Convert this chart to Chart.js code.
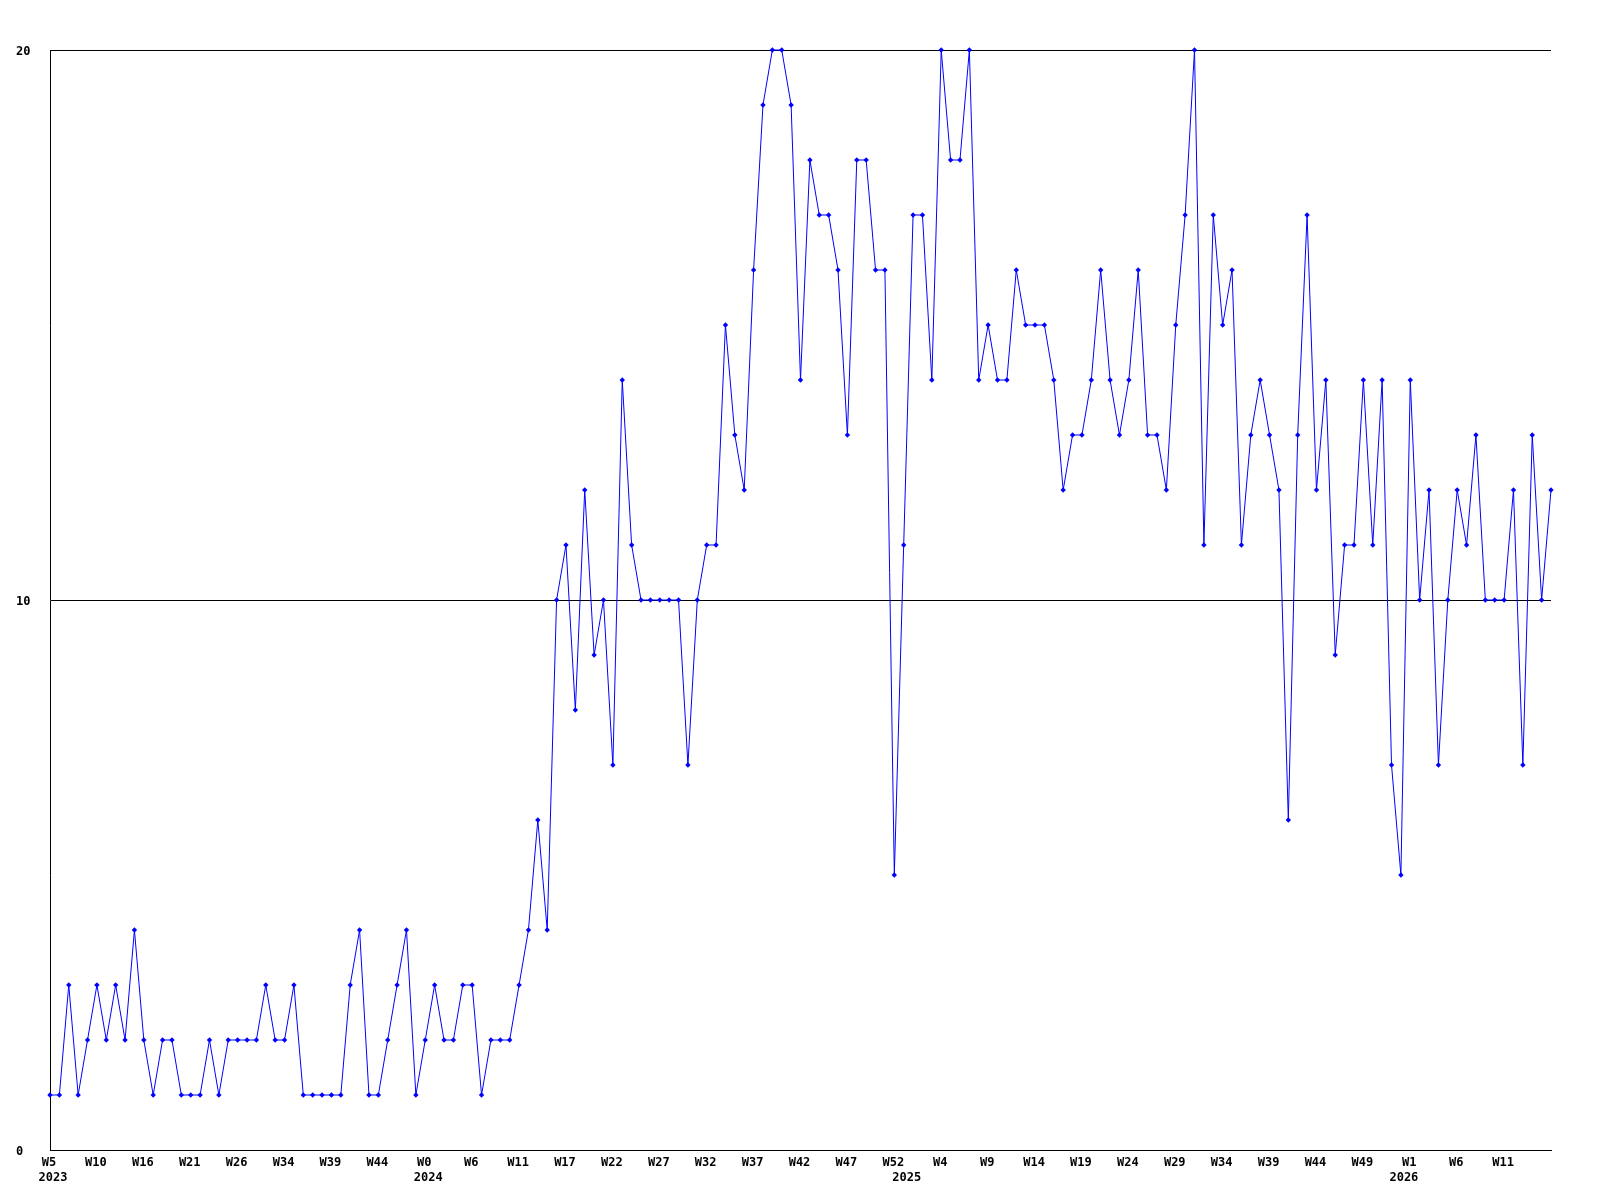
<!DOCTYPE html>
<html><head><meta charset="utf-8">
<script src="https://cdn.jsdelivr.net/npm/chart.js@4.4.1/dist/chart.umd.min.js"></script>
<style>html,body{margin:0;padding:0;background:#fff}canvas{display:block}</style>
</head><body>
<canvas id="c" width="1600" height="1200"></canvas>
<script>
const values = [
  1,1,3,1,2,3,2,3,2,4,
  2,1,2,2,1,1,1,2,1,2,
  2,2,2,3,2,2,3,1,1,1,
  1,1,3,4,1,1,2,3,4,1,
  2,3,2,2,3,3,1,2,2,2,
  3,4,6,4,10,11,8,12,9,10,
  7,14,11,10,10,10,10,10,7,10,
  11,11,15,13,12,16,19,20,20,19,
  14,18,17,17,16,13,18,18,16,16,
  5,11,17,17,14,20,18,18,20,14,
  15,14,14,16,15,15,15,14,12,13,
  13,14,16,14,13,14,16,13,13,12,
  15,17,20,11,17,15,16,11,13,14,
  13,12,6,13,17,12,14,9,11,11,
  14,11,14,7,5,14,10,12,7,10,
  12,11,13,10,10,10,12,7,13,10,12
];
const weekTicks = ['W5','W10','W16','W21','W26','W34','W39','W44','W0','W6','W11',
  'W17','W22','W27','W32','W37','W42','W47','W52','W4','W9','W14','W19','W24',
  'W29','W34','W39','W44','W49','W1','W6','W11'];
const yearTicks = ['2023','2024','2025','2026'];
const yearTickIndex = [0, 40, 91, 144];
const yRange = [0, 20];
const yStep = 10;

const categories = values.map((_, i) => (i % 5 === 0 && weekTicks[i / 5]) ? weekTicks[i / 5] : '');
const tickFont = {family: "'DejaVu Sans Mono', monospace", size: 12, weight: 'bold'};

new Chart(document.getElementById('c'), {
  type: 'line',
  data: {
    labels: categories,
    datasets: [{
      data: values,
      borderColor: '#0000ff',
      backgroundColor: '#0000ff',
      borderWidth: 1,
      pointStyle: 'rectRot',
      pointRadius: 2.7,
      pointBorderWidth: 0,
      pointBackgroundColor: '#0000ff',
      tension: 0,
      fill: false,
      clip: false,
      xAxisID: 'x',
      yAxisID: 'y'
    }]
  },
  options: {
    responsive: false,
    animation: false,
    devicePixelRatio: 1,
    layout: {padding: {left: 16, top: 50, right: 49, bottom: 0}},
    plugins: {legend: {display: false}, tooltip: {enabled: false}},
    scales: {
      x: {
        type: 'category', position: 'bottom', offset: false,
        grid: {display: false, drawTicks: false},
        border: {display: true, color: '#000', width: 1},
        ticks: {autoSkip: false, maxRotation: 0, minRotation: 0, padding: 6, labelOffset: -1, color: '#000', font: tickFont,
          callback: (v, i) => categories[i]},
        afterFit: s => { s.height = 20; }
      },
      x2: {
        type: 'category', position: 'bottom', offset: false,
        grid: {display: false, drawTicks: false},
        border: {display: false},
        ticks: {autoSkip: false, maxRotation: 0, minRotation: 0, padding: 1, labelOffset: 3, color: '#000', font: tickFont,
          callback: (v, i) => { const k = yearTickIndex.indexOf(i); return k >= 0 ? yearTicks[k] : ''; }},
        afterFit: s => { s.height = 30; }
      },
      y: {
        min: yRange[0], max: yRange[1], position: 'left',
        grid: {color: '#000', lineWidth: 1, drawTicks: false},
        border: {display: true, color: '#000', width: 1},
        ticks: {stepSize: yStep, padding: 0, crossAlign: 'far', labelOffset: 2, color: '#000', font: tickFont},
        afterFit: s => { s.width = 34; }
      }
    }
  }
});
</script>
</body></html>
